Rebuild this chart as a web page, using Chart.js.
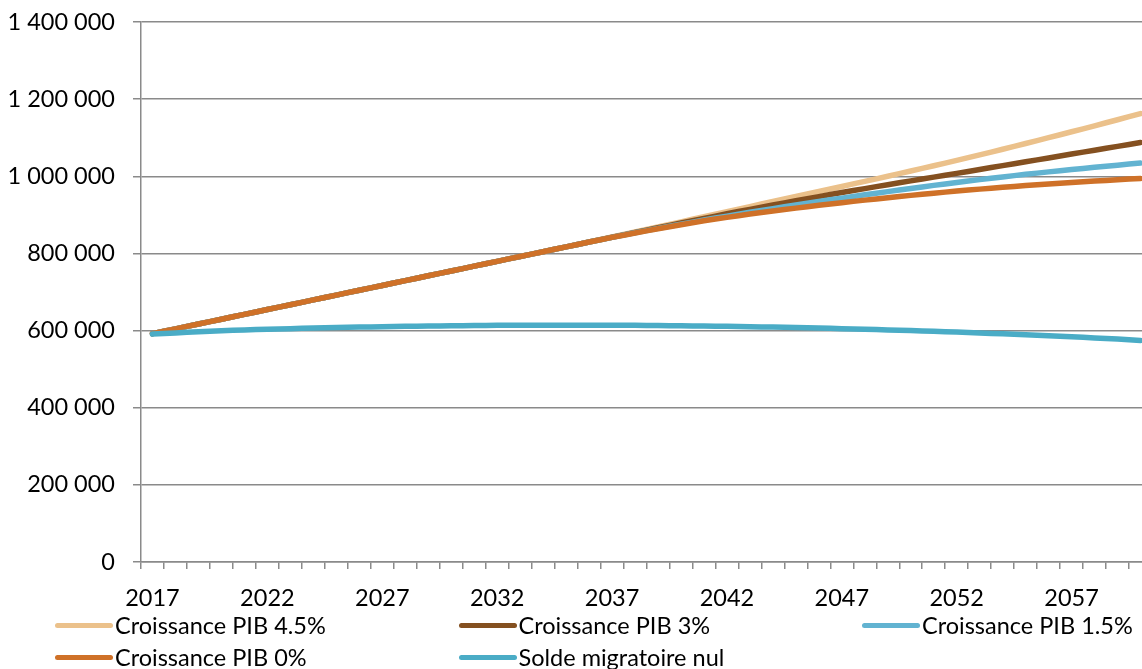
<!DOCTYPE html>
<html>
<head>
<meta charset="utf-8">
<script src="https://cdn.jsdelivr.net/npm/chart.js@4.4.1/dist/chart.umd.min.js"></script>
<style>
  html, body { margin: 0; padding: 0; background: #fff; overflow: hidden; }
  #wrap { position: relative; width: 1160px; height: 669px; }
  #legend { position: absolute; left: 0; top: 0; width: 1160px; height: 669px; pointer-events: none; }
  .item { position: absolute; display: flex; align-items: center; height: 30px;
          font-family: Lato, "Open Sans", sans-serif; font-size: 23.5px; color: #000; white-space: nowrap; }
  .swatch { display: inline-block; width: 58px; height: 5px; border-radius: 3px; margin-right: 2px; }
</style>
</head>
<body>
<div id="wrap">
  <canvas id="chart" width="1160" height="669"></canvas>
  <div id="legend"></div>
</div>
<script>
// years on the category axis
const years = [
  2017, 2018, 2019, 2020, 2021, 2022, 2023, 2024, 2025, 2026,
  2027, 2028, 2029, 2030, 2031, 2032, 2033, 2034, 2035, 2036,
  2037, 2038, 2039, 2040, 2041, 2042, 2043, 2044, 2045, 2046,
  2047, 2048, 2049, 2050, 2051, 2052, 2053, 2054, 2055, 2056,
  2057, 2058, 2059, 2060
];

// values in thousands
const pib45 = [
  592, 604.5, 617, 629.5, 642, 654.5, 667, 679.5, 692, 704.5,
  717, 729.5, 742, 754.5, 767, 779.5, 792, 804.5, 817, 829.5,
  842.5, 855.6, 868.7, 881.9, 895.1, 908.3, 921.5, 934.5, 947.5, 960.5,
  973.6, 986.8, 1000.1, 1013.6, 1027.3, 1041.2, 1055.5, 1070.1, 1085.0, 1100.1,
  1115.4, 1130.9, 1146.6, 1162.5
];
const pib3 = [
  592, 604.5, 617, 629.5, 642, 654.5, 667, 679.5, 692, 704.5,
  717, 729.5, 742, 754.5, 767, 779.5, 792, 804.5, 817, 829.5,
  842.0, 854.4, 866.7, 878.9, 890.9, 902.7, 914.3, 925.6, 936.6, 947.3,
  957.8, 968.1, 978.2, 988.1, 997.9, 1007.6, 1017.6, 1027.6, 1037.6, 1047.6,
  1057.6, 1067.6, 1077.6, 1087.6
];
const pib15 = [
  592, 604.5, 617, 629.5, 642, 654.5, 667, 679.5, 692, 704.5,
  717, 729.5, 742, 754.5, 767, 779.5, 792, 804.5, 817, 829.5,
  841.7, 853.5, 864.9, 875.9, 886.5, 896.7, 906.6, 916.2, 925.5, 934.5,
  943.3, 951.9, 960.3, 968.5, 976.4, 984.0, 991.3, 998.3, 1005.0, 1011.4,
  1017.5, 1023.3, 1028.8, 1034.5
];
const pib0 = [
  592, 604.5, 617, 629.5, 642, 654.5, 667, 679.5, 692, 704.5,
  717, 729.5, 742, 754.5, 767, 779.5, 792, 804.5, 817, 829.5,
  841.5, 853, 864, 874.5, 884.5, 893.5, 902, 910, 917.5, 924.7,
  931.6, 938.2, 944.5, 950.5, 956.2, 961.6, 966.7, 971.5, 976, 980.2,
  984.1, 987.7, 991, 994.5
];
const soldeNul = [
  591, 594, 597, 599.5, 601.5, 603.5, 605, 606.5, 607.8, 609,
  610, 611, 611.8, 612.5, 613, 613.5, 613.8, 614, 614, 614,
  613.8, 613.5, 613, 612.5, 611.8, 611, 610, 609, 607.8, 606.5,
  605, 603.5, 601.8, 600, 598, 596, 593.8, 591.5, 589, 586.5,
  583.8, 581, 578, 574
];

const seriesNames = [
  "Croissance PIB 4.5%",
  "Croissance PIB 3%",
  "Croissance PIB 1.5%",
  "Croissance PIB 0%",
  "Solde migratoire nul"
];
const seriesData = [pib45, pib3, pib15, pib0, soldeNul];
const seriesColors = ["#EBC18B", "#845020", "#62B3D1", "#CF7128", "#4AACC6"];
const drawOrder = [4, 3, 2, 1, 0];

const FONT = "Lato, 'Open Sans', sans-serif";
const GRID = "#8a8a8a";

function spaced(v) {
  return String(v).replace(/\B(?=(\d{3})+(?!\d))/g, " ");
}

const datasets = seriesNames.map((name, i) => ({
  label: name,
  data: seriesData[i].map(v => v * 1000),
  borderColor: seriesColors[i],
  backgroundColor: seriesColors[i],
  borderWidth: 5.5,
  pointRadius: 0,
  tension: 0.3,
  borderCapStyle: "round",
  borderJoinStyle: "round",
  order: drawOrder[i],
}));

const chart = new Chart(document.getElementById("chart"), {
  type: "line",
  data: { labels: years, datasets: datasets },
  options: {
    responsive: false,
    animation: false,
    layout: { padding: { top: 22, right: 8, bottom: 52, left: 0 } },
    plugins: { legend: { display: false }, tooltip: { enabled: false } },
    scales: {
      x: {
        type: "category",
        offset: true,
        grid: { offset: true, drawOnChartArea: false, drawTicks: true, tickLength: 7, color: GRID, lineWidth: 1.5 },
        border: { display: true, color: GRID, width: 1.5 },
        ticks: {
          autoSkip: false,
          maxRotation: 0,
          padding: 15,
          color: "#000",
          font: { family: FONT, size: 23.5 },
          callback: function (val, idx) {
            return idx % 5 === 0 ? String(this.getLabelForValue(val)) : "";
          }
        },
        afterFit: s => { s.height = 55; }
      },
      y: {
        min: 0,
        max: 1400000,
        grid: { color: GRID, lineWidth: 1.5, tickLength: 8 },
        border: { display: true, color: GRID, width: 1.5 },
        ticks: {
          stepSize: 200000,
          padding: 18,
          color: "#000",
          font: { family: FONT, size: 23.5 },
          callback: v => spaced(v)
        },
        afterFit: s => { s.width = 141; s.paddingTop = 0; s.paddingBottom = 0; }
      }
    }
  }
});

// legend laid out in three columns, like the original
const legend = document.getElementById("legend");
chart.data.datasets.forEach((ds, i) => {
  const row = Math.floor(i / 3), col = i % 3;
  const el = document.createElement("div");
  el.className = "item";
  el.style.left = (55 + col * 403.5) + "px";
  el.style.top = (610 + row * 32) + "px";
  const sw = document.createElement("span");
  sw.className = "swatch";
  sw.style.background = ds.borderColor;
  el.appendChild(sw);
  el.appendChild(document.createTextNode(ds.label));
  legend.appendChild(el);
});
</script>
</body>
</html>
